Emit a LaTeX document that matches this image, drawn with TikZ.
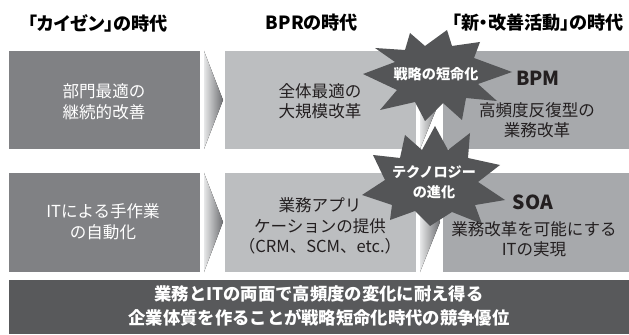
\documentclass[tikz,border=0pt]{standalone}
\usepackage{fontspec}
\setmainfont{Noto Sans CJK JP}
\definecolor{boxL}{HTML}{808184}
\definecolor{boxM}{HTML}{BCBEC0}
\definecolor{boxR}{HTML}{A7A9AC}
\definecolor{darkg}{HTML}{58595B}
\definecolor{burstc}{HTML}{545557}
\definecolor{txt}{HTML}{231F20}
\definecolor{chevL}{HTML}{E6E7E8}
\definecolor{chevR}{HTML}{6D6E71}
\tikzset{
  panel/.style={inner sep=0pt, outer sep=0pt, draw=none},
  lpanel/.style={panel, fill=boxL, minimum width=143.25pt},
  mpanel/.style={panel, fill=boxM, minimum width=143.25pt},
  rpanel/.style={panel, fill=boxR, minimum width=139.5pt},
  rowone/.style={minimum height=73.5pt},
  rowtwo/.style={minimum height=74.25pt},
  title/.style={font=\bfseries\fontsize{13.6}{16}\selectfont\addfontfeatures{RawFeature=+palt}, text=black, inner sep=0pt},
  wtext/.style={font=\fontsize{12.4}{15.7}\selectfont, text=white, align=center, inner sep=0pt},
  dtext/.style={font=\fontsize{12.4}{15.2}\selectfont, text=txt, align=center, inner sep=0pt},
  acro/.style={font=\bfseries\fontsize{14.5}{16}\selectfont, text=txt, inner sep=0pt},
  bursttext/.style={font=\bfseries\fontsize{10.6}{15}\selectfont, text=white, align=center, inner sep=0pt},
  bannertext/.style={font=\bfseries\fontsize{13}{17.5}\selectfont, text=white, align=center, inner sep=0pt},
  chev/.style={left color=chevL, right color=chevR, draw=none},
}
\begin{document}
\begin{tikzpicture}[x=0.75pt,y=-0.75pt]
\useasboundingbox[fill=white] (0,0) rectangle (629,335);

% titles
\node[title] (t1) at (98,23) {「カイゼン」の時代};
\node[title] (t2) at (312,23) {BPRの時代};
\node[title] (t3) at (538,23) {「新・改善活動」の時代};

% panels row 1
\node[lpanel, rowone] (l1) at (104.5,100) {};
\node[mpanel, rowone] (m1) at (320.5,100) {};
\node[rpanel, rowone] (r1) at (536,100) {};
% panels row 2
\node[lpanel, rowtwo] (l2) at (104.5,222.5) {};
\node[mpanel, rowtwo] (m2) at (320.5,222.5) {};
\node[rpanel, rowtwo] (r2) at (536,222.5) {};

% chevrons
\fill[chev] (204,51) -- (223,100) -- (204,149) -- cycle;
\fill[chev] (204,173) -- (223,222) -- (204,272) -- cycle;
\fill[chev] (420,51) -- (440,100) -- (420,149) -- cycle;
\fill[chev] (420,173) -- (440,222) -- (420,272) -- cycle;

% banner
\node[panel, fill=darkg, minimum width=465pt, minimum height=40.5pt] (ban) at (319,307) {};

% bursts
\fill[burstc] (363,74) -- (395,62) -- (375,48) -- (405,50) -- (410,33) -- (425,46) -- (447,30)
  -- (452,46) -- (480,42) -- (474,58) -- (512,72) -- (478,84) -- (497,101) -- (466,98)
  -- (462,120) -- (443,103) -- (425,121) -- (415,102) -- (380,110) -- (397,90) -- cycle;
\fill[burstc] (362,195) -- (385,180) -- (373,155) -- (400,158) -- (405,135) -- (422,150)
  -- (435,126) -- (448,150) -- (470,133) -- (468,158) -- (500,165) -- (478,182) -- (505,200)
  -- (475,205) -- (482,224) -- (452,212) -- (430,226) -- (415,211) -- (390,220) -- (392,205) -- cycle;

% texts
\node[wtext] (l1t) at (104,102) {部門最適の\\継続的改善};
\node[dtext] (m1t) at (320,101) {全体最適の\\大規模改革};
\node[acro] (bpm) at (538,78) {BPM};
\node[dtext] (r1t) at (537,120) {高頻度反復型の\\業務改革};

\node[wtext] (l2t) at (103,222) {ITによる手作業\\の自動化};
\node[dtext] (m2t) at (320,226) {業務アプリ\\ケーションの提供\\（CRM、SCM、etc.）};
\node[acro] (soa) at (533,202) {SOA};
\node[dtext] (r2t) at (534,239) {業務改革を可能にする\\ITの実現};

\node[bursttext] (b1t) at (436,74) {戦略の短命化};
\node[bursttext] (b2t) at (434,182) {テクノロジー\\の進化};

\node[bannertext] (bant) at (319,306) {業務とITの両面で高頻度の変化に耐え得る\\企業体質を作ることが戦略短命化時代の競争優位};
\end{tikzpicture}
\end{document}
